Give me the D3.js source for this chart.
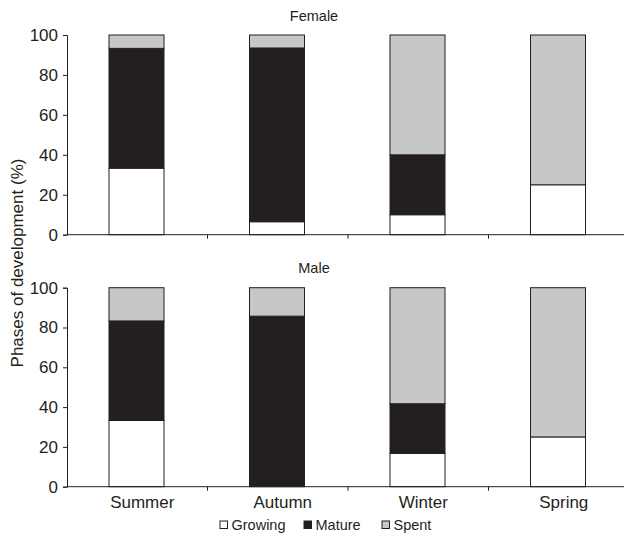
<!DOCTYPE html>
<html>
<head>
<meta charset="utf-8">
<script src="https://cdn.jsdelivr.net/npm/d3@7"></script>
<style>
  body { margin: 0; background: #fff; }
  text { font-family: "Liberation Sans", Arial, sans-serif; fill: #231f20; }
</style>
</head>
<body>
<div id="chart"></div>
<script>
// seasons on the x axis
var seasons = ["Summer", "Autumn", "Winter", "Spring"];
// phases of development (stack order, bottom to top)
var phases = ["Growing", "Mature", "Spent"];
var yTicks = [0, 20, 40, 60, 80, 100];
// percentages
var femaleGrowing = [33.3, 6.5, 10, 25];
var femaleMature = [60, 87, 30, 0];
var femaleSpent = [6.7, 6.5, 60, 75];
var maleGrowing = [33.3, 0, 16.7, 25];
var maleMature = [50, 85.7, 25, 0];
var maleSpent = [16.7, 14.3, 58.3, 75];

var W = 624, H = 533;
var left = 67, right = 629;
var colors = { Growing: "#ffffff", Mature: "#231f20", Spent: "#c6c7c9" };

var svg = d3.select("#chart").append("svg")
    .attr("width", W)
    .attr("height", H);

var x = d3.scaleBand()
    .domain(seasons)
    .range([left, right]);

var panels = [
    { title: "Female", top: 35, bottom: 234.7, titleY: 21,
      rows: [femaleGrowing, femaleMature, femaleSpent] },
    { title: "Male", top: 287.7, bottom: 486.7, titleY: 273,
      rows: [maleGrowing, maleMature, maleSpent] }
];

panels.forEach(function (p) {
    var y = d3.scaleLinear().domain([0, 100]).range([p.bottom, p.top]);
    var table = seasons.map(function (s, i) {
        var o = { season: s };
        phases.forEach(function (ph, k) { o[ph] = p.rows[k][i]; });
        return o;
    });
    var stack = d3.stack().keys(phases)(table);
    var g = svg.append("g");

    // bars
    stack.forEach(function (layer) {
        g.selectAll(null)
            .data(layer)
            .enter()
            .append("rect")
            .attr("x", function (d) { return x(d.data.season) + 42; })
            .attr("width", 55)
            .attr("y", function (d) { return y(d[1]); })
            .attr("height", function (d) { return y(d[0]) - y(d[1]); })
            .attr("fill", colors[layer.key])
            .attr("stroke", "#231f20")
            .attr("stroke-width", 1);
    });

    // y axis
    var ya = g.append("g")
        .attr("transform", "translate(" + left + ",0)")
        .call(d3.axisLeft(y).tickValues(yTicks).tickSize(4).tickPadding(5));
    ya.selectAll("path, line").attr("stroke", "#231f20");
    ya.selectAll("text").attr("font-size", "17px").attr("fill", "#231f20")
        .style("font-family", "Liberation Sans, Arial, sans-serif");

    // x axis line with ticks between seasons
    g.append("line")
        .attr("x1", left).attr("x2", right)
        .attr("y1", p.bottom).attr("y2", p.bottom)
        .attr("stroke", "#231f20");
    g.selectAll(null)
        .data(seasons.slice(1))
        .enter()
        .append("line")
        .attr("x1", function (s) { return x(s); })
        .attr("x2", function (s) { return x(s); })
        .attr("y1", p.bottom)
        .attr("y2", p.bottom + 4)
        .attr("stroke", "#231f20");

    g.append("text")
        .attr("x", 314)
        .attr("y", p.titleY)
        .attr("text-anchor", "middle")
        .attr("font-size", "14.5px")
        .text(p.title);
});

// season labels
svg.selectAll(null)
    .data(seasons)
    .enter()
    .append("text")
    .attr("x", function (s) { return x(s) + x.bandwidth() / 2 + 5; })
    .attr("y", 508)
    .attr("text-anchor", "middle")
    .attr("font-size", "17px")
    .text(function (s) { return s; });

// y axis title
svg.append("text")
    .attr("transform", "translate(23,263) rotate(-90)")
    .attr("text-anchor", "middle")
    .attr("font-size", "17px")
    .text("Phases of development (%)");

// legend
var legendX = [220, 304, 382];
var lg = svg.selectAll(null)
    .data(phases)
    .enter()
    .append("g")
    .attr("transform", function (d, i) { return "translate(" + legendX[i] + ",521)"; });
lg.append("rect")
    .attr("width", 7.5)
    .attr("height", 7.5)
    .attr("fill", function (d) { return colors[d]; })
    .attr("stroke", "#231f20");
lg.append("text")
    .attr("x", 11.5)
    .attr("y", 9)
    .attr("font-size", "14.5px")
    .text(function (d) { return d; });
</script>
</body>
</html>
